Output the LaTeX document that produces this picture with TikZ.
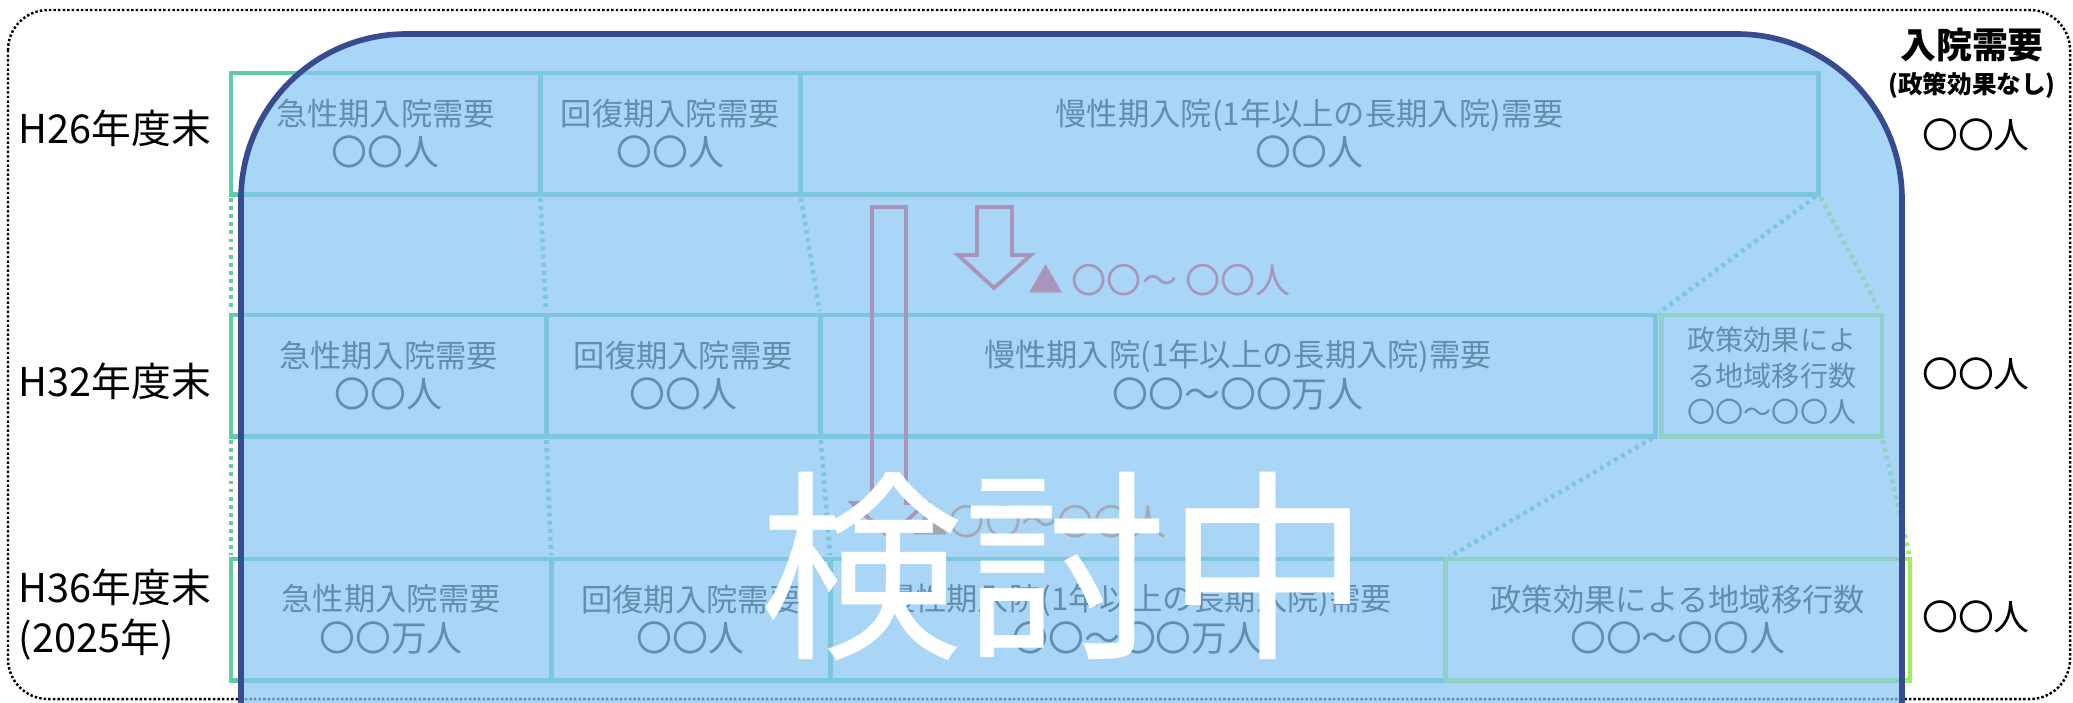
\documentclass[tikz,border=0pt]{standalone}
\usepackage{fontspec}
\setmainfont{Noto Sans CJK JP}
\usetikzlibrary{positioning}

\definecolor{rowgreen}{RGB}{95,205,170}
\definecolor{rowlime}{RGB}{162,237,91}
\definecolor{veilblue}{RGB}{136,197,242}
\definecolor{veilnavy}{RGB}{55,75,145}
\definecolor{cutred}{RGB}{250,30,40}
\definecolor{cutorange}{RGB}{230,100,30}

\newcommand{\headfont}{\fontsize{8.9pt}{11.6pt}\selectfont}
\newcommand{\numfont}{\fontsize{10.2pt}{11.6pt}\selectfont}

\begin{document}
\begin{tikzpicture}[x=0.01cm, y=-0.01cm,
    cell/.style={draw=rowgreen, line width=1.4pt, minimum height=1.21cm,
        inner sep=0pt, outer sep=0pt, align=center, font=\headfont},
    limecell/.style={cell, draw=rowlime},
    link/.style={rowgreen, line width=1.3pt, dash pattern=on 1.1pt off 1.2pt,
        shorten <=0.04cm, shorten >=0.04cm},
    limelink/.style={link, rowlime},
    yearlabel/.style={anchor=west, inner sep=0pt, align=left,
        font=\fontsize{11.3pt}{14.2pt}\selectfont},
    demand/.style={inner sep=0pt, font=\fontsize{10.2pt}{12pt}\selectfont},
    hollowarrow/.style={draw=cutred, line width=1.1pt, line join=miter},
]
    \useasboundingbox (0,0) rectangle (2073,702);
    \clip (0,0) rectangle (2073,702);

    % dotted outer frame
    \draw[line width=0.7pt, dash pattern=on 0.7pt off 0.6pt, rounded corners=0.4cm]
        (8,10) rectangle (2070,699);

    % years on the left
    \node[yearlabel] (y26) at (18,128) {H26年度末};
    \node[yearlabel] (y32) at (18,381) {H32年度末};
    \node[yearlabel] (y36) at (18,615) {H36年度末\\(2025年)};

    % demand column on the right
    \node[demand, font=\bfseries\fontsize{10.2pt}{12pt}\selectfont] (need) at (1972,45) {入院需要};
    \node[demand, font=\bfseries\fontsize{7pt}{8pt}\selectfont] (needsub) at (1972,85) {(政策効果なし)};
    \node[demand] (n26) at (1976,135) {〇〇人};
    \node[demand] (n32) at (1976,374) {〇〇人};
    \node[demand] (n36) at (1976,617) {〇〇人};

    % H26 row
    \node[cell, minimum width=3.09cm, anchor=north west] (r1a) at (231,73) {急性期入院需要\\{\numfont 〇〇人}};
    \node[cell, minimum width=2.6cm, right=0pt of r1a] (r1b) {回復期入院需要\\{\numfont 〇〇人}};
    \node[cell, minimum width=10.18cm, right=0pt of r1b] (r1c) {慢性期入院(1年以上の長期入院)需要\\{\numfont 〇〇人}};

    % H32 row
    \node[cell, minimum width=3.15cm, anchor=north west] (r2a) at (231,315) {急性期入院需要\\{\numfont 〇〇人}};
    \node[cell, minimum width=2.74cm, right=0pt of r2a] (r2b) {回復期入院需要\\{\numfont 〇〇人}};
    \node[cell, minimum width=8.35cm, right=0pt of r2b] (r2c) {慢性期入院(1年以上の長期入院)需要\\{\numfont 〇〇～〇〇万人}};
    \node[limecell, minimum width=2.2cm, right=0.06cm of r2c,
        font=\fontsize{8pt}{10.2pt}\selectfont] (r2d) {政策効果によ\\る地域移行数\\〇〇～〇〇人};

    % H36 row
    \node[cell, minimum width=3.2cm, anchor=north west] (r3a) at (231,559) {急性期入院需要\\{\numfont 〇〇万人}};
    \node[cell, minimum width=2.79cm, right=0pt of r3a] (r3b) {回復期入院需要\\{\numfont 〇〇人}};
    \node[cell, minimum width=6.15cm, right=0pt of r3b] (r3c) {慢性期入院(1年以上の長期入院)需要\\{\numfont 〇〇～〇〇万人}};
    \node[limecell, minimum width=4.64cm, right=0pt of r3c] (r3d) {政策効果による地域移行数\\{\numfont 〇〇～〇〇人}};

    % dotted links between the rows
    \draw[link] (r1a.south west) -- (r2a.north west);
    \draw[link] (r1a.south east) -- (r2a.north east);
    \draw[link] (r1b.south east) -- (r2b.north east);
    \draw[link] (r1c.south east) -- (r2c.north east);
    \draw[limelink] (r1c.south east) -- (r2d.north east);
    \draw[link] (r2a.south west) -- (r3a.north west);
    \draw[link] (r2a.south east) -- (r3a.north east);
    \draw[link] (r2b.south east) -- (r3b.north east);
    \draw[link] (r2c.south east) -- (r3c.north east);
    \draw[limelink] (r2d.south east) -- (r3d.north east);

    % reduction arrows
    \draw[hollowarrow] (977,207) -- (1012,207) -- (1012,255) -- (1031,255) -- (994,288) -- (958,255) -- (977,255) -- cycle;
    \draw[hollowarrow] (872,207) -- (906,207) -- (906,503) -- (926,503) -- (889,537) -- (852,503) -- (872,503) -- cycle;
    \node[anchor=west, inner sep=0pt, text=cutred, font=\fontsize{10pt}{12pt}\selectfont] (cut32) at (1028,280) {▲ 〇〇～ 〇〇人};
    \node[anchor=west, inner sep=0pt, text=cutorange, font=\fontsize{10.3pt}{12pt}\selectfont] (cut36) at (912,522) {▲〇〇～〇〇人};

    % veil over the table
    \fill[veilblue, fill opacity=0.72, rounded corners=1.65cm] (241,34) rectangle (1902,1100);
    \draw[veilnavy, line width=1.6pt, rounded corners=1.65cm] (241,34) rectangle (1902,1100);
    \node[inner sep=0pt, text=white, font=\fontsize{58pt}{60pt}\selectfont] (wip) at (1065,566) {検討中};
\end{tikzpicture}
\end{document}
